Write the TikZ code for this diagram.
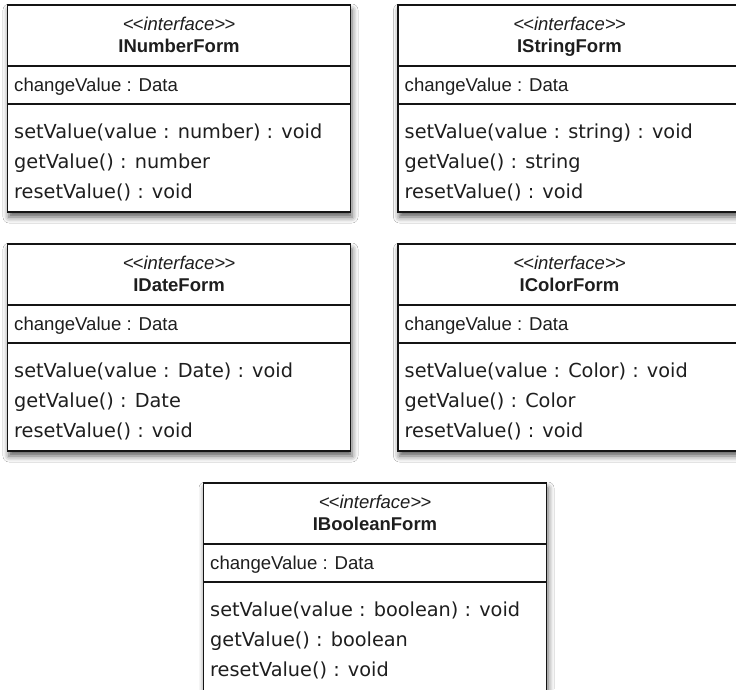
\documentclass[tikz,border=0pt]{standalone}
\usepackage{fontspec}
\setmainfont{Liberation Sans}
\newfontfamily\methfont{DejaVu Sans}
\usetikzlibrary{shadows.blur}
\definecolor{ink}{RGB}{30,30,30}
\definecolor{edge}{RGB}{20,20,20}
\tikzset{
  umlbox/.style={draw=edge, line width=1.6pt, fill=white, outer sep=0pt, inner sep=0pt,
    minimum width=343pt, minimum height=207pt, anchor=north west,
    blur shadow={shadow xshift=1.5pt, shadow yshift=-5pt, shadow blur radius=6pt, shadow opacity=65}},
  sepline/.style={draw=edge, line width=1.4pt},
  stereo/.style={anchor=base, inner sep=0pt, text=ink, font=\fontsize{18.5}{20}\selectfont\itshape},
  cname/.style={anchor=base, inner sep=0pt, text=ink, font=\fontsize{18.5}{20}\selectfont\bfseries},
  attrtext/.style={anchor=base west, inner sep=0pt, text=ink, font=\fontsize{18.6}{20}\selectfont},
  methtext/.style={anchor=base west, inner sep=0pt, text=ink, font=\fontsize{19.3}{21}\selectfont\methfont}
}
\newcommand{\ifacebox}[6]{%
  \node[umlbox, minimum height=#6pt] (#1) at (#2,#3) {};
  \draw[sepline] ([yshift=-61pt]#1.north west) -- ([yshift=-61pt]#1.north east);
  \draw[sepline] ([yshift=-99pt]#1.north west) -- ([yshift=-99pt]#1.north east);
  \node[stereo] (#1-st) at ([yshift=-25pt]#1.north) {{<}\kern-1pt{<}interface{>}\kern-1pt{>}};
  \node[cname] (#1-nm) at ([yshift=-47pt]#1.north) {I#4Form};
  \node[attrtext] (#1-at) at ([xshift=6.5pt,yshift=-86pt]#1.north west) {changeValue : Data};
  \node[methtext] (#1-m1) at ([xshift=6.5pt,yshift=-133pt]#1.north west) {setValue(value : #5) : void};
  \node[methtext] (#1-m2) at ([xshift=6.5pt,yshift=-163pt]#1.north west) {getValue() : #5};
  \node[methtext] (#1-m3) at ([xshift=6.5pt,yshift=-193pt]#1.north west) {resetValue() : void};
}
\begin{document}
\begin{tikzpicture}[x=1pt,y=-1pt]
\useasboundingbox (0,0) rectangle (736,689);
\clip (0,0) rectangle (736,689);
\fill[white] (0,0) rectangle (736,689);
\ifacebox{num}{7.5}{5}{Number}{number}{207}
\ifacebox{str}{398}{5}{String}{string}{207}
\ifacebox{date}{7.5}{244}{Date}{Date}{207}
\ifacebox{col}{398}{244}{Color}{Color}{207}
\ifacebox{bool}{203.5}{483}{Boolean}{boolean}{240}
\end{tikzpicture}
\end{document}
